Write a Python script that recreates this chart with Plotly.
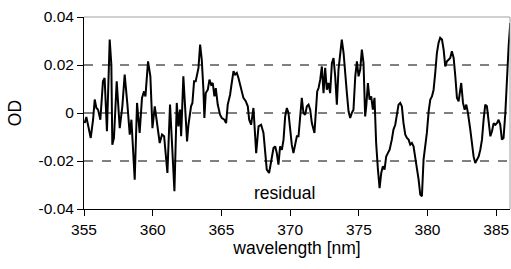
import plotly.graph_objects as go

wavelength = [
355.05,355.17,355.29,355.49,355.66,355.78,355.90,356.02,356.19,356.38,356.50,356.67,356.87,356.99,357.06,357.18,357.38,357.60,357.79,357.96,
358.16,358.33,358.45,358.69,358.86,359.05,359.22,359.37,359.47,359.66,359.83,359.98,360.15,360.27,360.51,360.68,360.83,361.07,
361.26,361.39,361.51,361.58,361.75,361.87,361.99,362.07,362.23,362.36,362.50,362.60,362.79,362.89,363.01,363.13,363.25,363.33,363.45,363.57,
363.69,363.76,363.86,364.01,364.13,364.25,364.37,364.49,364.59,364.73,364.90,365.03,365.22,365.34,365.46,365.63,365.75,365.88,366.00,366.12,
366.24,366.43,366.60,366.77,366.92,367.02,367.16,367.33,367.45,367.53,367.70,367.89,368.06,368.18,368.30,368.47,368.62,368.79,
368.91,369.03,369.15,369.27,369.40,369.52,369.64,369.76,369.88,370.00,370.12,370.24,370.37,370.49,370.61,370.73,370.85,370.97,371.09,371.22,
371.34,371.46,371.58,371.77,371.87,371.97,372.07,372.19,372.31,372.43,372.55,372.67,372.79,372.91,373.04,373.16,373.28,373.40,373.52,373.64,
373.76,373.89,374.01,374.13,374.25,374.37,374.49,374.61,374.74,374.86,374.98,375.10,375.22,375.34,375.46,375.54,375.66,375.78,375.90,376.02,
376.14,376.26,376.39,376.51,376.63,376.75,376.87,376.99,377.11,377.24,377.40,377.52,
377.65,377.77,377.89,378.01,378.13,378.25,378.38,378.50,378.62,378.74,378.86,378.98,379.10,379.23,379.35,379.47,379.59,379.71,379.83,379.95,
380.08,380.20,380.32,380.44,380.56,380.68,380.80,380.92,381.05,381.17,381.29,381.41,381.53,381.65,381.77,381.90,382.02,382.14,382.26,382.38,
382.45,382.58,382.70,382.82,382.94,383.11,383.23,383.35,383.47,383.59,383.72,383.84,383.96,384.08,384.20,384.32,384.44,384.57,384.69,384.81,
384.93,385.05,385.17,385.29,385.41,385.53,385.66,385.78,385.90,386.02,
]

residual = [
-0.0042,-0.0017,-0.0049,-0.0104,-0.0028,0.0056,0.0021,0.0014,-0.0028,0.0132,0.0146,-0.0076,0.0306,0.0201,-0.0132,-0.0104,0.0132,-0.0063,0.0028,0.0160,
0.0035,-0.0090,-0.0028,-0.0278,0.0042,-0.0083,0.0063,0.0090,0.0069,0.0215,0.0153,-0.0063,0.0028,-0.0028,-0.0125,-0.0090,-0.0097,-0.0250,
0.0035,-0.0111,-0.0292,-0.0326,0.0042,-0.0056,0.0014,-0.0097,0.0153,0.0014,-0.0118,-0.0049,0.0028,0.0042,0.0132,0.0132,0.0160,0.0188,0.0285,0.0222,
0.0097,-0.0021,0.0083,0.0097,0.0139,0.0118,0.0125,0.0069,0.0104,0.0035,-0.0007,-0.0021,-0.0028,-0.0042,0.0035,0.0076,0.0125,0.0174,0.0160,0.0167,
0.0146,0.0097,0.0063,0.0049,0.0028,-0.0028,-0.0049,0.0021,-0.0069,-0.0167,-0.0056,-0.0049,-0.0083,-0.0153,-0.0236,-0.0250,-0.0208,-0.0146,
-0.0139,-0.0167,-0.0215,-0.0139,-0.0153,-0.0111,-0.0014,0.0021,0.0000,-0.0069,-0.0132,-0.0167,-0.0125,-0.0097,-0.0097,-0.0028,0.0063,0.0000,-0.0007,0.0028,
0.0035,0.0014,-0.0042,-0.0083,0.0014,0.0090,0.0104,0.0139,0.0194,0.0083,0.0188,0.0097,0.0125,0.0083,0.0208,0.0229,0.0153,0.0035,0.0181,0.0250,
0.0306,0.0250,0.0181,0.0083,0.0007,-0.0021,0.0000,0.0014,0.0153,0.0215,0.0153,0.0181,0.0264,0.0208,-0.0014,0.0028,0.0125,0.0056,0.0069,0.0014,
0.0063,-0.0125,-0.0236,-0.0313,-0.0250,-0.0222,-0.0236,-0.0181,-0.0167,-0.0153,-0.0111,-0.0069,
-0.0049,0.0000,0.0035,0.0042,0.0028,-0.0042,-0.0090,-0.0104,-0.0111,-0.0132,-0.0125,-0.0139,-0.0181,-0.0229,-0.0278,-0.0340,-0.0347,-0.0194,-0.0139,-0.0083,
0.0007,0.0056,0.0069,0.0097,0.0167,0.0250,0.0292,0.0313,0.0306,0.0264,0.0194,0.0215,0.0222,0.0229,0.0257,0.0229,0.0153,0.0063,0.0049,0.0097,
0.0125,0.0042,0.0014,0.0035,0.0000,-0.0069,-0.0139,-0.0181,-0.0208,-0.0194,-0.0181,-0.0153,-0.0111,-0.0028,0.0035,0.0028,-0.0042,-0.0097,-0.0076,-0.0042,
-0.0049,-0.0042,-0.0028,-0.0049,-0.0111,-0.0104,0.0000,0.0153,0.0278,0.0375,
]

x_ticks = [355, 360, 365, 370, 375, 380, 385]
y_ticks = [-0.04, -0.02, 0, 0.02, 0.04]
y_tick_labels = ["-0.04", "-0.02", "0", "0.02", "0.04"]
grid_values = [-0.02, 0, 0.02]
x_range = [355, 386]
y_range = [-0.04, 0.04]
annotation_text = "residual"
annotation_pos = (369.6, -0.0333)

FONT = "Liberation Sans, Arial, sans-serif"

fig = go.Figure()
fig.add_trace(go.Scatter(x=wavelength, y=residual, mode="lines",
                         line=dict(color="black", width=2), showlegend=False))

shapes = []
for g in grid_values:
    shapes.append(dict(type="line", xref="paper", yref="y", x0=0, x1=1, y0=g, y1=g,
                       line=dict(color="black", width=1, dash="dash"), layer="below"))
shapes.append(dict(type="line", xref="paper", yref="paper", x0=0, x1=1, y0=1, y1=1,
                   line=dict(color="#a0a0a0", width=1)))
shapes.append(dict(type="line", xref="paper", yref="paper", x0=1, x1=1, y0=0, y1=1,
                   line=dict(color="#a0a0a0", width=1)))

fig.update_layout(
    width=511, height=269,
    margin=dict(l=84, r=1, t=17, b=60),
    paper_bgcolor="white", plot_bgcolor="white",
    font=dict(family=FONT, size=15.5, color="black"),
    shapes=shapes,
    xaxis=dict(range=x_range, tickvals=x_ticks, ticks="outside", ticklen=6,
               tickcolor="black", showline=True, linecolor="black", linewidth=1,
               showgrid=False, zeroline=False, ticklabeloverflow="allow",
               title=dict(text="wavelength [nm]", font=dict(size=17.5), standoff=4)),
    yaxis=dict(range=y_range, tickvals=y_ticks, ticktext=y_tick_labels, ticks="outside",
               ticklen=6, tickcolor="black", showline=True, linecolor="black", linewidth=1,
               showgrid=False, zeroline=False,
               title=dict(text="OD", font=dict(size=17.5), standoff=12)),
    annotations=[dict(x=annotation_pos[0], y=annotation_pos[1], xref="x", yref="y",
                      text=annotation_text, showarrow=False, font=dict(size=17.5))],
)

# remove the default page margin so the 511x269 figure fills the window exactly
fig.write_html(
    "out.html",
    config={"displayModeBar": False},
    post_script="document.body.style.margin='0';document.documentElement.style.overflow='hidden';",
)
